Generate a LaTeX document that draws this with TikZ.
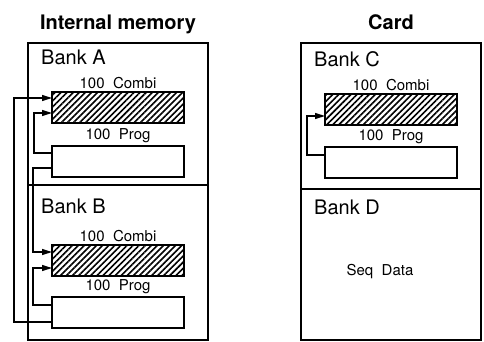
\documentclass[tikz,border=0pt]{standalone}
\usepackage{fontspec}
\setmainfont{TeX Gyre Heros}
\usepackage{tikz}
\usetikzlibrary{arrows.meta,positioning,patterns.meta}

\begin{document}
\begin{tikzpicture}[
  x=1pt, y=-1pt, >={Triangle[length=10pt,width=6pt]},
  bank/.style={draw, line width=2pt, minimum width=180pt, inner sep=0pt, outer sep=0pt},
  slot/.style={draw, line width=2pt, minimum width=132pt, minimum height=31pt, inner sep=0pt, outer sep=0pt},
  combi/.style={slot, pattern={Lines[angle=45,distance=4.3pt,line width=1.6pt]}},
  prog/.style={slot},
  ttl/.style={font=\fontsize{20}{24}\selectfont\bfseries, anchor=base, inner sep=0pt},
  banklbl/.style={font=\fontsize{20}{24}\selectfont, anchor=base west, inner sep=0pt},
  lbl/.style={font=\fontsize{15}{18}\selectfont, inner sep=0pt},
  conn/.style={line width=1.5pt}
]
  \useasboundingbox (0,0) rectangle (484,342);

  \node[bank, anchor=north west, minimum height=142pt] (bankA) at (28,43) {};
  \node[bank, below=0pt of bankA, minimum height=155pt] (bankB) {};
  \node[bank, anchor=north west, minimum height=146pt] (bankC) at (301,43) {};
  \node[bank, below=0pt of bankC, minimum height=151pt] (bankD) {};

  \node[ttl] (intmem) at ([yshift=13pt]bankA.north) {Internal memory};
  \node[ttl] (card) at ([yshift=13pt]bankC.north) {Card};

  \node[banklbl] (lblA) at ([shift={(13,22)}]bankA.north west) {Bank A};
  \node[banklbl] (lblB) at ([shift={(13,28)}]bankB.north west) {Bank B};
  \node[banklbl] (lblC) at ([shift={(13,24)}]bankC.north west) {Bank C};
  \node[banklbl] (lblD) at ([shift={(13,25)}]bankD.north west) {Bank D};

  \node[combi, below right=49pt and 24pt of bankA.north west] (combiA) {};
  \node[prog, below=23pt of combiA] (progA) {};
  \node[combi, below right=60pt and 24pt of bankB.north west] (combiB) {};
  \node[prog, below=21pt of combiB] (progB) {};
  \node[combi, below right=51pt and 24pt of bankC.north west] (combiC) {};
  \node[prog, below=22pt of combiC] (progC) {};

  \node[lbl, above=3pt of combiA] (tcA) {100~~Combi};
  \node[lbl, above=3pt of progA] (tpA) {100~~Prog};
  \node[lbl, above=3pt of combiB] (tcB) {100~~Combi};
  \node[lbl, above=3pt of progB] (tpB) {100~~Prog};
  \node[lbl, above=3pt of combiC] (tcC) {100~~Combi};
  \node[lbl, above=3pt of progC] (tpC) {100~~Prog};
  \node[lbl, anchor=base] (seq) at ([shift={(-11,11)}]bankD.center) {Seq~~Data};

  \coordinate (cA1) at ([yshift=-6pt]combiA.north west);
  \coordinate (cA2) at ([yshift=-21pt]combiA.north west);
  \coordinate (pA1) at ([yshift=-7pt]progA.north west);
  \coordinate (pA2) at ([yshift=9pt]progA.south west);
  \coordinate (cB1) at ([yshift=-7pt]combiB.north west);
  \coordinate (cB2) at ([yshift=-23pt]combiB.north west);
  \coordinate (pB1) at ([yshift=-8pt]progB.north west);
  \coordinate (pB2) at ([yshift=6pt]progB.south west);
  \coordinate (cC2) at ([yshift=-22pt]combiC.north west);
  \coordinate (pC1) at ([yshift=-8pt]progC.north west);

  \draw[conn,->] (pA1) -- ++(-18,0) |- (cA2);
  \draw[conn,->] (pA2) -- ++(-19,0) |- (cB1);
  \draw[conn,->] (pB1) -- ++(-19,0) |- (cB2);
  \draw[conn,->] (pB2) -- ++(-38,0) |- (cA1);
  \draw[conn,->] (pC1) -- ++(-18,0) |- (cC2);
\end{tikzpicture}
\end{document}
